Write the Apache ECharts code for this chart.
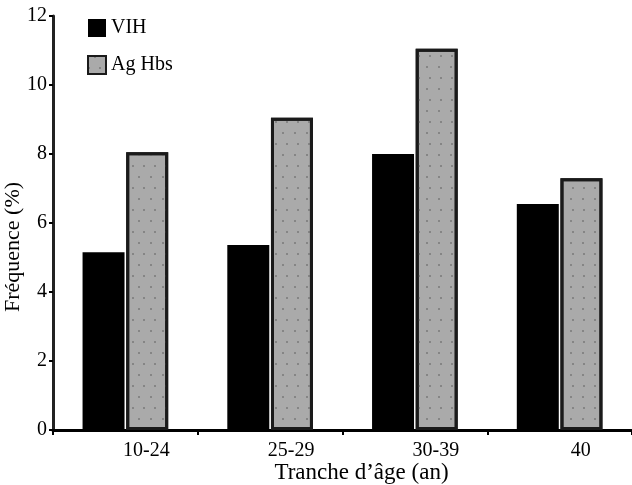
<!DOCTYPE html>
<html>
<head>
<meta charset="utf-8">
<script src="https://cdn.jsdelivr.net/npm/echarts@6/dist/echarts.min.js"></script>
<style>
html,body{margin:0;padding:0;background:#fff;}
#chart{width:632px;height:485px;}
</style>
</head>
<body>
<div id="chart"></div>
<script>
const categories = ['10-24', '25-29', '30-39', '40'];
const vihValues = [5.15, 5.36, 8.0, 6.55];
const hbsValues = [8.05, 9.05, 11.05, 7.3];
const seriesNames = ['VIH', 'Ag Hbs'];
const xTitle = 'Tranche d\u2019\u00e2ge (an)';
const yTitle = 'Fr\u00e9quence (%)';

const FONT = '"Liberation Serif", "DejaVu Serif", serif';
const chart = echarts.init(document.getElementById('chart'), null, {renderer: 'canvas'});
chart.setOption({
  animation: false,
  backgroundColor: '#fff',
  aria: {enabled: true, decal: {show: true}},
  grid: {left: 53, right: 0, top: 16, bottom: 55, containLabel: false, outerBoundsMode: 'none'},
  legend: {
    orient: 'vertical',
    left: 82, top: 13,
    itemWidth: 18, itemHeight: 18, itemGap: 17,
    icon: 'rect',
    textStyle: {fontFamily: FONT, fontSize: 20, color: '#000'},
    data: seriesNames
  },
  xAxis: {
    type: 'category',
    data: categories,
    boundaryGap: true,
    name: xTitle,
    nameLocation: 'middle',
    nameGap: 31,
    nameMoveOverlap: false,
    nameTextStyle: {fontFamily: FONT, fontSize: 23, color: '#000', padding: [0,0,0,38], verticalAlign: 'top'},
    axisLine: {lineStyle: {color: '#000', width: 3}},
    axisTick: {show: true, alignWithLabel: false, length: 5, lineStyle: {color: '#000', width: 2}},
    axisLabel: {fontFamily: FONT, fontSize: 20, color: '#000', margin: 11, padding: [0,0,0,42]},
    splitLine: {show: false}
  },
  yAxis: {
    type: 'value',
    min: 0, max: 12, interval: 2,
    name: yTitle,
    nameLocation: 'middle',
    nameGap: 29,
    nameMoveOverlap: false,
    nameTextStyle: {fontFamily: FONT, fontSize: 22, color: '#000', padding: [0,48,0,0]},
    axisLine: {show: true, lineStyle: {color: '#222', width: 3}},
    axisTick: {show: true, length: 4, lineStyle: {color: '#000', width: 2}},
    axisLabel: {fontFamily: FONT, fontSize: 20, color: '#000', margin: 6},
    splitLine: {show: false}
  },
  series: [
    {
      name: seriesNames[0],
      type: 'bar',
      data: vihValues,
      barWidth: '29%',
      barGap: '4%',
      itemStyle: {color: '#000', decal: {symbol: 'none'}}
    },
    {
      name: seriesNames[1],
      type: 'bar',
      data: hbsValues,
      barWidth: '29%',
      itemStyle: {
        color: '#aaaaaa',
        borderColor: '#1a1a1a',
        borderWidth: 3,
        decal: {
          symbol: 'circle',
          symbolSize: 1,
          color: 'rgba(120,120,120,1)',
          dashArrayX: [[2, 9], [0, 5.5, 2, 3.5]],
          dashArrayY: [2, 9],
          rotation: 0
        }
      }
    }
  ]
});
</script>
</body>
</html>
